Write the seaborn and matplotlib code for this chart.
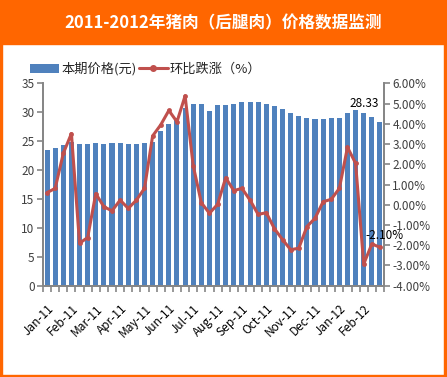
import matplotlib
matplotlib.use('Agg')
import matplotlib.pyplot as plt
import seaborn as sns
import numpy as np
import pandas as pd
from matplotlib.patches import Rectangle, Patch
from matplotlib.lines import Line2D
from matplotlib.ticker import FuncFormatter

# Daten (Dekaden-Werte Jan-11 .. Feb-12)
price = [23.5, 23.8, 24.3, 24.9, 24.5, 24.5, 24.7, 24.5, 24.7, 24.7,
         24.5, 24.5, 24.7, 24.9, 26.8, 28.0, 29.0, 30.8, 31.4, 31.4,
         30.2, 31.3, 31.3, 31.4, 31.8, 31.8, 31.7, 31.5, 31.1, 30.6,
         29.9, 29.4, 29.0, 28.8, 28.8, 29.0, 29.0, 29.9, 30.4, 29.8,
         29.1, 28.33]
pct = [0.60, 0.81, 2.54, 3.52, -1.90, -1.62, 0.55, -0.10, -0.30, 0.23,
       -0.18, 0.23, 0.81, 3.40, 3.95, 4.66, 4.10, 5.38, 1.93, 0.10,
       -0.42, 0.02, 1.33, 0.70, 0.81, 0.23, -0.48, -0.39, -1.18, -1.72,
       -2.22, -2.15, -1.08, -0.67, 0.15, 0.27, 0.81, 2.84, 2.05, -2.93,
       -1.94, -2.10]
months = ['Jan-11', 'Feb-11', 'Mar-11', 'Apr-11', 'May-11', 'Jun-11', 'Jul-11',
          'Aug-11', 'Sep-11', 'Oct-11', 'Nov-11', 'Dec-11', 'Jan-12', 'Feb-12']
title = '2011-2012年猪肉（后腿肉）价格数据监测'
legend_labels = ['本期价格(元)', '环比跌涨（%）']

bar_color = '#4F81BD'
line_color = '#C0504D'
orange = '#FF6600'
grey = '#868686'
txt = '#404040'

sns.set_theme(style='white')
plt.rcParams['font.family'] = ['Noto Sans CJK SC', 'DejaVu Sans']

df = pd.DataFrame({'period': range(len(price)), 'price': price, 'pct': pct})

fig = plt.figure(figsize=(4.47, 3.77), dpi=100)
fig.patch.set_facecolor('white')
ax = fig.add_axes([0.0962, 0.2422, 0.7629, 0.5367])

sns.barplot(data=df, x='period', y='price', color=bar_color, width=0.62,
            saturation=1, linewidth=0, ax=ax)
ax.set_xlim(-0.5, len(price) - 0.5)
ax.set_ylim(0, 35)
ax.set_yticks(range(0, 36, 5))
ax.set_xlabel('')
ax.set_ylabel('')

ax2 = ax.twinx()
sns.lineplot(data=df, x='period', y='pct', ax=ax2, color=line_color, lw=2.2,
             marker='o', markersize=3.5, markeredgewidth=0)
ax2.set_xlim(-0.5, len(price) - 0.5)
ax2.set_ylim(-4, 6)
ax2.set_yticks(range(-4, 7))
ax2.yaxis.set_major_formatter(FuncFormatter(lambda v, p: '{:.2f}%'.format(v)))
ax2.set_ylabel('')

# x-Achse: Beschriftung jede 3. Dekade, Striche zwischen Kategorien
ax.set_xticks(range(0, len(price), 3))
ax.set_xticklabels(months)
ax.set_xticks(np.arange(-0.5, len(price), 1), minor=True)
ax.tick_params(axis='x', which='major', length=0, pad=12, labelsize=8.5, labelcolor='black')
ax.tick_params(axis='x', which='minor', bottom=True, length=4, width=1.2, color=grey)
plt.setp(ax.get_xticklabels(), rotation=45, ha='right', rotation_mode='anchor')
ax.tick_params(axis='y', left=True, length=4, width=1.2, color=grey, labelsize=8.5, labelcolor=txt, pad=2)
ax2.tick_params(axis='y', right=True, length=4, width=1.2, color=grey, labelsize=8.5, labelcolor=txt, pad=2)

for a in (ax, ax2):
    a.spines['top'].set_visible(False)
    for s in ('left', 'right', 'bottom'):
        a.spines[s].set_color(grey)
        a.spines[s].set_linewidth(1.3)
    a.grid(False)

# Datenbeschriftungen
ax.annotate('{:.2f}'.format(price[-1]), xy=(len(price) - 1, price[-1]), xytext=(-16, 18),
            textcoords='offset pixels', ha='center', va='center', fontsize=8.5, color='black')
ax2.annotate('{:.2f}%'.format(pct[-1]), xy=(len(pct) - 1, pct[-1]), xytext=(5, 12),
             textcoords='offset pixels', ha='center', va='center', fontsize=8.5, color='black')

# Legende
handles = [Patch(facecolor=bar_color, edgecolor='none'),
           Line2D([], [], color=line_color, lw=2.2, marker='o', ms=4)]
fig.legend(handles, legend_labels, loc='center left', bbox_to_anchor=(30 / 447, 1 - 69 / 377),
           ncol=2, frameon=False, fontsize=9.5, handlelength=2.2, handleheight=0.7,
           handletextpad=0.15, columnspacing=0.2, borderaxespad=0, borderpad=0)

# Titelleiste und Rahmen
fig.add_artist(Rectangle((0, 1 - 44 / 377), 1, 44 / 377, transform=fig.transFigure,
                         color=orange, zorder=0))
fig.add_artist(Rectangle((0, 0), 2 / 447, 1, transform=fig.transFigure, color=orange))
fig.add_artist(Rectangle((1 - 3 / 447, 0), 3 / 447, 1, transform=fig.transFigure, color=orange))
fig.add_artist(Rectangle((0, 0), 1, 2 / 377, transform=fig.transFigure, color=orange))
fig.text(0.5, 1 - 23 / 377, title, color='white', fontsize=12, fontweight='bold',
         ha='center', va='center')

fig.savefig('out.png', dpi=100)
